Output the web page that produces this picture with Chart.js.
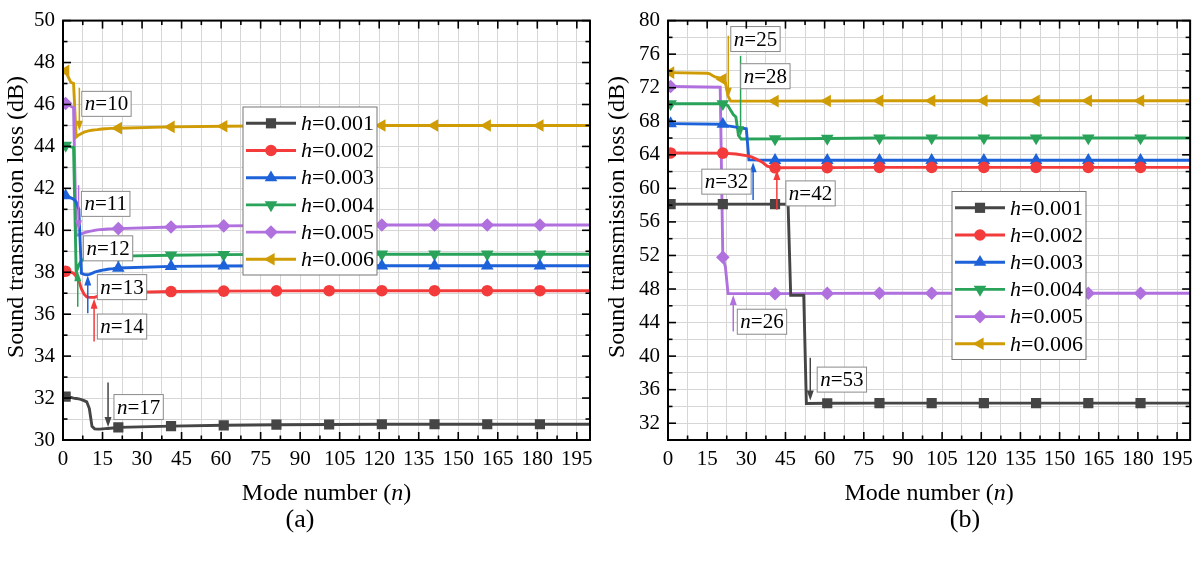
<!DOCTYPE html>
<html>
<head>
<meta charset="utf-8">
<script src="https://cdn.jsdelivr.net/npm/chart.js@4.4.1/dist/chart.umd.min.js"></script>
<style>
  html, body { margin: 0; padding: 0; background: #fff; }
  #wrap { position: relative; width: 1200px; height: 564px; overflow: hidden; font-family: 'Liberation Serif', 'Times New Roman', serif; }
  canvas { position: absolute; top: 0; }
  #chartA { left: 0; }
  #chartB { left: 600px; }
  .cap { position: absolute; top: 505px; font-size: 26px; line-height: 28px; transform: translateX(-50%); color: #000; }
</style>
</head>
<body>
<div id="wrap">
  <canvas id="chartA" width="600" height="564"></canvas>
  <canvas id="chartB" width="600" height="564"></canvas>
  <div class="cap" style="left:300px">(a)</div>
  <div class="cap" style="left:965px">(b)</div>
</div>
<script>
// series labels (plate thickness h) and marker positions
const hLabels = ['0.001', '0.002', '0.003', '0.004', '0.005', '0.006']
const markerN = [1, 21, 41, 61, 81, 101, 121, 141, 161, 181]

// tick labels
const xMajor = [0, 15, 30, 45, 60, 75, 90, 105, 120, 135, 150, 165, 180, 195]
const yMajorA = [30, 32, 34, 36, 38, 40, 42, 44, 46, 48, 50]
const yMajorB = [32, 36, 40, 44, 48, 52, 56, 60, 64, 68, 72, 76, 80]

// (a) sound transmission loss vs mode number
const nA = [1, 2, 3, 4, 5, 6, 7, 8, 9, 10, 11, 12, 13, 14, 15, 16, 17, 18, 19, 20, 21, 41, 61, 81, 101, 121, 141, 161, 181, 200]
const tlA1 = [32.07, 32.05, 32.03, 32.0, 31.98, 31.96, 31.93, 31.88, 31.82, 31.5, 30.65, 30.53, 30.52, 30.52, 30.53, 30.54, 30.55, 30.56, 30.57, 30.58, 30.6, 30.66, 30.7, 30.73, 30.74, 30.75, 30.75, 30.75, 30.75, 30.75]
const tlA2 = [38.05, 38.03, 38.0, 37.95, 37.8, 37.6, 37.2, 36.95, 36.82, 36.8, 36.8, 36.8, 36.85, 36.9, 36.93, 36.95, 36.97, 36.99, 37.0, 37.01, 37.02, 37.08, 37.1, 37.11, 37.12, 37.12, 37.12, 37.12, 37.12, 37.12]
const tlA3 = [41.65, 41.6, 41.55, 41.48, 41.35, 41.0, 37.95, 37.9, 37.88, 37.9, 37.95, 38.0, 38.04, 38.07, 38.1, 38.12, 38.14, 38.16, 38.17, 38.19, 38.2, 38.28, 38.3, 38.31, 38.31, 38.31, 38.31, 38.31, 38.31, 38.31]
const tlA4 = [44.05, 44.02, 43.98, 43.95, 38.0, 38.35, 38.55, 38.62, 38.65, 38.67, 38.68, 38.7, 38.71, 38.72, 38.73, 38.74, 38.75, 38.75, 38.76, 38.77, 38.77, 38.81, 38.84, 38.85, 38.86, 38.86, 38.86, 38.86, 38.86, 38.86]
const tlA5 = [46.05, 46.0, 45.92, 45.85, 39.75, 39.78, 39.83, 39.88, 39.92, 39.95, 39.97, 40.0, 40.02, 40.03, 40.04, 40.05, 40.06, 40.07, 40.07, 40.08, 40.08, 40.16, 40.21, 40.23, 40.25, 40.25, 40.25, 40.25, 40.25, 40.25]
const tlA6 = [47.6, 47.3, 47.05, 47.0, 44.45, 44.55, 44.62, 44.68, 44.72, 44.75, 44.77, 44.79, 44.8, 44.82, 44.83, 44.84, 44.85, 44.86, 44.86, 44.87, 44.87, 44.93, 44.96, 44.98, 45.0, 45.0, 45.0, 45.0, 45.0, 45.0]

// (b)
const nB1 = [1, 21, 41, 46, 47, 52, 53, 61, 81, 101, 121, 141, 161, 181, 200]
const tlB1 = [58.12, 58.12, 58.12, 58.1, 47.25, 47.25, 34.35, 34.38, 34.4, 34.4, 34.4, 34.4, 34.4, 34.4, 34.4]
const nB2 = [1, 21, 26, 30, 32, 34, 36, 38, 40, 41, 61, 81, 101, 121, 141, 161, 181, 200]
const tlB2 = [64.22, 64.2, 64.1, 63.9, 63.75, 63.45, 63.15, 62.65, 62.47, 62.45, 62.47, 62.5, 62.5, 62.5, 62.5, 62.5, 62.5, 62.5]
const nB3 = [1, 21, 23, 26, 30, 31, 41, 61, 81, 101, 121, 141, 161, 181, 200]
const tlB3 = [67.72, 67.65, 67.45, 67.3, 67.1, 63.4, 63.35, 63.35, 63.35, 63.35, 63.35, 63.35, 63.35, 63.35, 63.35]
const nB4 = [1, 21, 22, 23, 24, 25, 26, 27, 28, 41, 61, 81, 101, 121, 141, 161, 181, 200]
const tlB4 = [70.08, 70.08, 70.0, 69.85, 69.3, 68.8, 68.5, 66.3, 65.88, 65.9, 65.95, 66.0, 66.0, 66.0, 66.0, 66.0, 66.0, 66.0]
const nB5 = [1, 20, 21, 22, 23, 41, 61, 81, 101, 121, 141, 161, 181, 200]
const tlB5 = [72.15, 72.05, 51.8, 50.6, 47.45, 47.45, 47.48, 47.5, 47.5, 47.5, 47.5, 47.5, 47.5, 47.5]
const nB6 = [1, 15, 16, 17, 18, 20, 21, 22, 23, 24, 41, 61, 81, 101, 121, 141, 161, 181, 200]
const tlB6 = [73.8, 73.72, 73.65, 73.45, 73.3, 73.15, 73.0, 72.6, 71.0, 70.4, 70.4, 70.42, 70.45, 70.45, 70.45, 70.45, 70.45, 70.45, 70.45]

// boxed "n=.." notes: series, text, label centre [n, dB], arrow [n, from dB, to dB]
const notesA = [
  { s: 5, text: '10', at: [16.5, 46.03], arrow: [6.2, 46.8, 44.75] },
  { s: 4, text: '11', at: [16.2, 41.26], arrow: [5.9, 42.15, 40.0] },
  { s: 3, text: '12', at: [17.1, 39.14], arrow: [5.6, 36.35, 38.05] },
  { s: 2, text: '13', at: [22.4, 37.29], arrow: [9.4, 36.04, 37.85] },
  { s: 1, text: '14', at: [22.4, 35.41], arrow: [11.8, 34.7, 36.74] },
  { s: 0, text: '17', at: [28.7, 31.57], arrow: [17.1, 32.74, 30.62] }
]
const notesB = [
  { s: 5, text: '25', at: [33.5, 77.8], arrow: [23.1, 78.2, 70.8] },
  { s: 3, text: '28', at: [37.3, 73.37], arrow: [27.8, 75.8, 66.2] },
  { s: 2, text: '32', at: [22.4, 60.8], arrow: [32.6, 58.6, 63.1] },
  { s: 1, text: '42', at: [54.6, 59.4], arrow: [41.7, 57.45, 62.2] },
  { s: 4, text: '26', at: [36, 44.1], arrow: [25, 42.94, 47.3] },
  { s: 0, text: '53', at: [66.6, 37.2], arrow: [54.5, 39.8, 34.7] }
]

const colors = ['#454545', '#f43b3b', '#1d62d9', '#29a35a', '#b071de', '#d09c05']
const shapes = ['rect', 'circle', 'triangle', 'triangle', 'rectRot', 'triangle']
const turns = [0, 0, 0, 180, 0, -90]
const sizes = [7.2, 5.8, 7.3, 7.3, 6.8, 7.3]

const serif = "'Liberation Serif', 'Times New Roman', serif"
const font = (it, size) => (it ? 'italic ' : '') + size + 'px ' + serif

const richWidth = (ctx, parts, size) => {
  let w = 0
  for (const [t, it] of parts) {
    ctx.font = font(it, size)
    w += ctx.measureText(t).width
  }
  return w
}

const drawRich = (ctx, parts, x, y, size) => {
  ctx.textAlign = 'left'
  ctx.textBaseline = 'middle'
  let cx = x
  for (const [t, it] of parts) {
    ctx.font = font(it, size)
    ctx.fillText(t, cx, y)
    cx += ctx.measureText(t).width
  }
}

// major ticks plus the minor ones half way between them
const withMinor = (major, min, max) => {
  const d = major[1] - major[0]
  const all = major.slice()
  major.forEach(m => { if (m - d / 2 >= min) all.push(m - d / 2) })
  const last = major[major.length - 1] + d / 2
  if (last <= max) all.push(last)
  return all.sort((a, b) => a - b)
}

const makePanel = (id, p) => {
  const xAll = withMinor(xMajor, 0, 200)
  const yAll = withMinor(p.yMajor, p.yMin, p.yMax)

  const datasets = p.tl.map((vals, i) => ({
    label: 'h=' + hLabels[i],
    data: p.n[i].map((n, k) => ({ x: n, y: vals[k] })),
    borderColor: colors[i],
    backgroundColor: colors[i],
    borderWidth: 2.9,
    pointStyle: shapes[i],
    pointRotation: turns[i],
    pointBorderWidth: 0,
    pointRadius: c => (c.raw && markerN.includes(c.raw.x)) ? sizes[i] : 0,
    pointHoverRadius: 0,
    tension: 0,
    fill: false
  }))

  const decor = {
    id: 'decor',
    afterDraw (chart) {
      const { ctx, chartArea: a, scales: { x, y } } = chart
      ctx.save()

      // arrows and boxed labels
      for (const nt of p.notes) {
        const c = colors[nt.s]
        const ax = x.getPixelForValue(nt.arrow[0])
        const y1 = y.getPixelForValue(nt.arrow[1])
        const y2 = y.getPixelForValue(nt.arrow[2])
        const dir = Math.sign(y2 - y1)
        ctx.strokeStyle = c
        ctx.fillStyle = c
        ctx.lineWidth = 1.5
        ctx.beginPath()
        ctx.moveTo(ax, y1)
        ctx.lineTo(ax, y2 - dir * 8)
        ctx.stroke()
        ctx.beginPath()
        ctx.moveTo(ax, y2)
        ctx.lineTo(ax - 3.5, y2 - dir * 10)
        ctx.lineTo(ax + 3.5, y2 - dir * 10)
        ctx.closePath()
        ctx.fill()

        const parts = [['n', true], ['=' + nt.text, false]]
        const w = richWidth(ctx, parts, 21)
        const cx = x.getPixelForValue(nt.at[0])
        const cy = y.getPixelForValue(nt.at[1])
        ctx.fillStyle = '#fff'
        ctx.fillRect(cx - w / 2 - 3, cy - 12.5, w + 6, 25)
        ctx.strokeStyle = '#8a8a8a'
        ctx.lineWidth = 1
        ctx.strokeRect(cx - w / 2 - 3, cy - 12.5, w + 6, 25)
        ctx.fillStyle = '#000'
        drawRich(ctx, parts, cx - w / 2, cy + 1, 21)
      }

      // frame with inward ticks on all four sides
      ctx.strokeStyle = '#000'
      ctx.lineWidth = 1.6
      const seg = (x1, y1, x2, y2) => {
        ctx.beginPath()
        ctx.moveTo(x1, y1)
        ctx.lineTo(x2, y2)
        ctx.stroke()
      }
      xAll.forEach(v => {
        const px = x.getPixelForValue(v)
        const L = xMajor.includes(v) ? 8 : 4.5
        seg(px, a.bottom, px, a.bottom - L)
        seg(px, a.top, px, a.top + L)
      })
      yAll.forEach(v => {
        const py = y.getPixelForValue(v)
        const L = p.yMajor.includes(v) ? 8 : 4.5
        seg(a.left, py, a.left + L, py)
        seg(a.right, py, a.right - L, py)
      })
      ctx.lineWidth = 2
      ctx.strokeRect(a.left, a.top, a.right - a.left, a.bottom - a.top)

      // legend
      const lg = p.legend
      ctx.fillStyle = '#fff'
      ctx.fillRect(lg.left, lg.top, 134, 168)
      ctx.strokeStyle = '#777'
      ctx.lineWidth = 1
      ctx.strokeRect(lg.left, lg.top, 134, 168)
      hLabels.forEach((h, i) => {
        const yy = lg.top + 16.3 + i * 27.2
        ctx.strokeStyle = colors[i]
        ctx.lineWidth = 2.9
        seg(lg.left + 3, yy, lg.left + 53, yy)
        ctx.fillStyle = colors[i]
        Chart.helpers.drawPoint(ctx, { pointStyle: shapes[i], rotation: turns[i], radius: sizes[i], borderWidth: 0 }, lg.left + 28, yy)
        ctx.fillStyle = '#000'
        drawRich(ctx, [['h', true], ['=' + h, false]], lg.left + 58, yy + 1, 22)
      })

      // axis titles
      ctx.fillStyle = '#000'
      const xt = [['Mode number (', false], ['n', true], [')', false]]
      const xw = richWidth(ctx, xt, 24)
      drawRich(ctx, xt, (a.left + a.right) / 2 - xw / 2, 494, 24)

      ctx.translate(p.yTitleX, 217)
      ctx.rotate(-Math.PI / 2)
      ctx.font = font(false, 24)
      ctx.textAlign = 'center'
      ctx.textBaseline = 'middle'
      ctx.fillText('Sound transmission loss (dB)', 0, 0)

      ctx.restore()
    }
  }

  return new Chart(document.getElementById(id), {
    type: 'line',
    data: { datasets },
    plugins: [decor],
    options: {
      responsive: false,
      animation: false,
      events: [],
      layout: { padding: { top: 15, right: p.padRight, bottom: 0, left: 0 } },
      plugins: { legend: { display: false }, tooltip: { enabled: false } },
      scales: {
        x: {
          type: 'linear',
          min: 0,
          max: 200,
          afterBuildTicks: s => { s.ticks = xAll.map(v => ({ value: v })) },
          afterFit: s => { s.height = 124 },
          grid: { color: '#d6d6d6', lineWidth: 1, drawTicks: false },
          border: { display: false },
          ticks: {
            autoSkip: false,
            maxRotation: 0,
            minRotation: 0,
            padding: 7,
            color: '#000',
            font: { family: serif, size: 21 },
            callback: v => xMajor.includes(v) ? String(v) : ''
          }
        },
        y: {
          type: 'linear',
          min: p.yMin,
          max: p.yMax,
          afterBuildTicks: s => { s.ticks = yAll.map(v => ({ value: v })) },
          afterFit: s => { s.width = p.yAxisW },
          grid: { color: '#d6d6d6', lineWidth: 1, drawTicks: false },
          border: { display: false },
          ticks: {
            autoSkip: false,
            padding: 8,
            color: '#000',
            font: { family: serif, size: 21 },
            callback: v => p.yMajor.includes(v) ? String(v) : ''
          }
        }
      }
    }
  })
}

makePanel('chartA', {
  n: [nA, nA, nA, nA, nA, nA],
  tl: [tlA1, tlA2, tlA3, tlA4, tlA5, tlA6],
  yMin: 30,
  yMax: 50,
  yMajor: yMajorA,
  yAxisW: 63,
  padRight: 10,
  legend: { left: 243, top: 107 },
  notes: notesA,
  yTitleX: 17
})

makePanel('chartB', {
  n: [nB1, nB2, nB3, nB4, nB5, nB6],
  tl: [tlB1, tlB2, tlB3, tlB4, tlB5, tlB6],
  yMin: 30,
  yMax: 80,
  yMajor: yMajorB,
  yAxisW: 68,
  padRight: 4,
  legend: { left: 352, top: 191.5 },
  notes: notesB,
  yTitleX: 18
})
</script>
</body>
</html>
